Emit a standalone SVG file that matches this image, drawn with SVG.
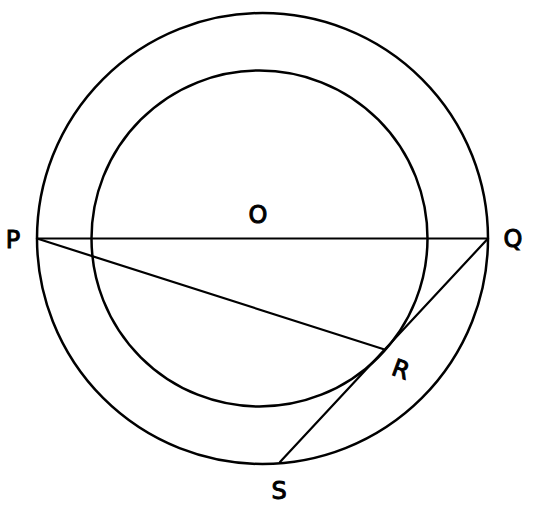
<svg xmlns="http://www.w3.org/2000/svg" width="548" height="508" viewBox="0 0 548 508">
<style>
.c{fill:none;stroke:#000;stroke-width:2.5}
.l{fill:none;stroke:#000;stroke-width:2.2;stroke-linecap:round}
.t{font-family:"DejaVu Sans",sans-serif;font-size:24px;fill:#000;stroke:#000;stroke-width:1;text-anchor:middle}
</style>
<rect width="548" height="508" fill="#fff"/>
<g id="outer-circle"><circle class="c" cx="262.5" cy="238.5" r="225.5"/></g>
<g id="inner-circle"><circle class="c" cx="259.5" cy="238.5" r="168"/></g>
<g id="connectors">
<line class="l" x1="37" y1="238.5" x2="488" y2="238.5"/>
<line class="l" x1="37" y1="238.5" x2="383" y2="349"/>
<line class="l" x1="488" y1="238.5" x2="280" y2="462"/>
</g>
<g id="P"><text class="t" x="13" y="248">P</text></g>
<g id="Q"><text class="t" x="513" y="247">Q</text></g>
<g id="O"><text class="t" x="258" y="223">O</text></g>
<g id="S"><text class="t" x="279" y="499">S</text></g>
<g id="R"><text class="t" x="0" y="0" transform="translate(398,377) rotate(20)">R</text></g>
</svg>
